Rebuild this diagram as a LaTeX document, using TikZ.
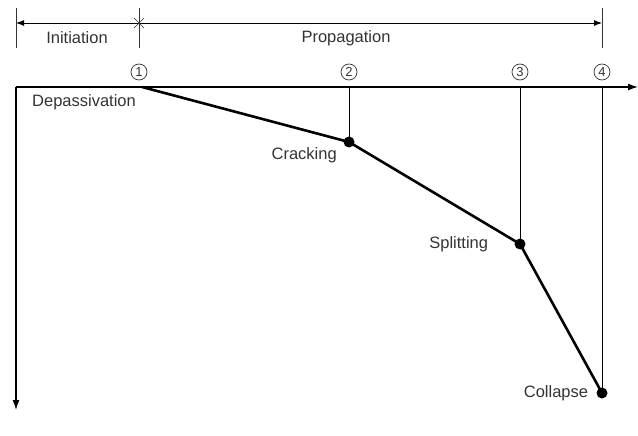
\documentclass[tikz,border=0pt]{standalone}
\usepackage{fontspec}
\setmainfont{Liberation Sans}
\usetikzlibrary{positioning,arrows.meta}
\tikzstyle{axis}=[-{Latex[length=10pt,width=7pt]}, line width=1.3pt]
\tikzstyle{dimline}=[{Latex[length=8pt,width=6pt]}-{Latex[length=8pt,width=6pt]}, line width=0.9pt]
\tikzstyle{tick}=[line width=0.7pt, black!80]
\tikzstyle{vline}=[line width=0.8pt]
\tikzstyle{curve}=[line width=2.6pt, line join=round]
\tikzstyle{dot}=[circle, fill=black, inner sep=0pt, minimum size=11pt]
\tikzstyle{lbl}=[text=black!80, font=\fontsize{16.5}{19}\selectfont, inner sep=2pt]
\tikzstyle{num}=[circle, draw=black!80, line width=0.7pt, text=black!80, minimum size=16pt,
 font=\fontsize{13}{14}\selectfont, inner sep=0pt]

\begin{document}
\begin{tikzpicture}[x=1pt,y=-1pt]
\useasboundingbox (0,0) rectangle (638,436);

% dimension line
\coordinate (ileft) at (16,23);
\coordinate (imid) at (139,23);
\coordinate (iright) at (602,23);
\coordinate (ltop) at (16,8);
\coordinate (lbot) at (16,48);
\coordinate (mtop) at (139,8);
\coordinate (mbot) at (139,48);
\coordinate (rtop) at (602,8);
\coordinate (rbot) at (602,48);
\draw[tick] (ltop) -- (lbot);
\draw[tick] (mtop) -- (mbot);
\draw[tick] (rtop) -- (rbot);
\draw[dimline] (ileft) -- (iright);
\draw[tick] (134,18) -- (144,28);
\draw[tick] (134,28) -- (144,18);
\node[lbl] (init) at (77,38) {Initiation};
\node[lbl] (prop) at (346,38) {Propagation};

% axes
\coordinate (origin) at (16,87);
\coordinate (xend) at (638,87);
\coordinate (yend) at (16,410);
\draw[axis] (origin) -- (xend);
\draw[axis] (origin) -- (yend);

% stages
\coordinate (p1) at (142,87);
\node[dot] (p2) at (349,142) {};
\node[dot] (p3) at (520,244) {};
\node[dot] (p4) at (602,393) {};

\draw[vline] (p2.center) -- (p2 |- origin);
\draw[vline] (p3.center) -- (p3 |- origin);
\draw[vline] (p4.center) -- (p4 |- origin);
\draw[curve] (p1) -- (p2.center) -- (p3.center) -- (p4.center);

\node[num] (n1) at (139,72) {1};
\node[num] (n2) at (349,72) {2};
\node[num] (n3) at (520,72) {3};
\node[num] (n4) at (602,72) {4};

\node[lbl, below right=5pt and 14pt of origin] (depass) {Depassivation};
\node[lbl, below left=-1pt and 6pt of p2] (crack) {Cracking};
\node[lbl, left=24pt of p3] (split) {Splitting};
\node[lbl, left=6pt of p4] (coll) {Collapse};

\end{tikzpicture}
\end{document}
